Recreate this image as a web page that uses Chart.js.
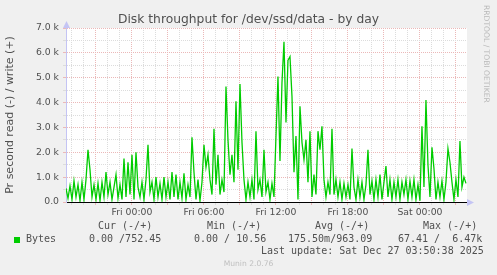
<!DOCTYPE html>
<html>
<head>
<meta charset="utf-8">
<script src="https://cdn.jsdelivr.net/npm/chart.js@4"></script>
<style>
  html, body { margin: 0; padding: 0; background: #f0f0f0; }
  #wrap { position: relative; width: 497px; height: 275px; overflow: hidden; font-family: "DejaVu Sans"; color: #505050; }
  canvas { position: absolute; left: 0; top: 0; }
  .t { position: absolute; white-space: pre; line-height: 12px; }
  .mono { font-family: "DejaVu Sans Mono"; font-size: 10px; }
</style>
</head>
<body>
<div id="wrap">
  <canvas id="chart" width="497" height="275"></canvas>
  <div class="t" style="left:0;width:497px;text-align:center;top:11px;font-size:12.3px;line-height:16px;">Disk throughput for /dev/ssd/data - by day</div>
  <div class="t" style="left:482px;top:5px;font-size:7.6px;color:#b8b8b8;transform-origin:0 0;transform:translate(10px,0) rotate(90deg);">RRDTOOL / TOBI OETIKER</div>

  <div class="t mono" style="left:98px;top:220px;">Cur (-/+)</div>
  <div class="t mono" style="left:207px;top:220px;">Min (-/+)</div>
  <div class="t mono" style="left:315px;top:220px;">Avg (-/+)</div>
  <div class="t mono" style="left:423px;top:220px;">Max (-/+)</div>

  <div style="position:absolute;left:14px;top:237px;width:6px;height:6px;background:#00cc00;"></div>
  <div class="t mono" style="left:26px;top:233px;">Bytes</div>
  <div class="t mono" style="left:89px;top:233px;">0.00 /752.45</div>
  <div class="t mono" style="left:194px;top:233px;">0.00 / 10.56</div>
  <div class="t mono" style="left:288px;top:233px;">175.50m/963.09</div>
  <div class="t mono" style="left:398px;top:233px;">67.41 /  6.47k</div>

  <div class="t mono" style="left:261px;top:245px;">Last update: Sat Dec 27 03:50:38 2025</div>
  <div class="t" style="left:0;width:497px;text-align:center;top:258px;font-size:7.6px;color:#c0c0c0;">Munin 2.0.76</div>
</div>

<script>
// samples every 10 minutes, starting Thu 18:30 (hours relative to Fri 00:00)
const startHour = -5.5;
const stepMinutes = 10;

// write throughput, bytes per second
const writeBytes = [
  550, 150, 650, 100, 850, 200, 700, 50, 800, 100,
  900, 2100, 1300, 200, 700, 100, 750, 50, 800, 200,
  1200, 300, 800, 100, 600, 1100, 150, 700, 100, 1750,
  200, 1600, 300, 1900, 100, 2000, 600, 200, 800, 100,
  900, 2300, 400, 800, 100, 1000, 200, 750, 100, 1000,
  200, 800, 100, 1200, 200, 1100, 100, 800, 150, 1150,
  100, 700, 200, 2600, 1200, 100, 900, 50, 800, 2300,
  1400, 1900, 900, 300, 2950, 700, 1900, 300, 900, 400,
  4650, 2500, 1100, 1900, 800, 4050, 1300, 4750, 2400, 900,
  100, 800, 200, 900, 100, 2850, 500, 900, 200, 2100,
  400, 800, 100, 750, 200, 2650, 5050, 1650, 4800, 6450,
  3200, 5700, 5850, 4250, 1200, 2650, 100, 3850, 2400, 1700,
  2500, 800, 2850, 200, 1100, 300, 2850, 2100, 3050, 900,
  200, 800, 300, 2950, 300, 900, 200, 800, 100, 750,
  200, 700, 100, 2150, 600, 100, 900, 200, 800, 100,
  700, 2100, 300, 850, 100, 900, 200, 1100, 100, 800,
  1450, 200, 900, 100, 800, 200, 900, 100, 800, 300,
  900, 100, 850, 200, 900, 100, 700, 50, 3050, 600,
  4100, 1500, 200, 2200, 1350, 100, 800, 200, 850, 100,
  800, 2150, 1600, 800, 100, 900, 200, 2450, 600, 1000,
  750
];

const tickHours = [0, 6, 12, 18, 24];
const tickLabels = ["Fri 00:00", "Fri 06:00", "Fri 12:00", "Fri 18:00", "Sat 00:00"];

const minorGrid = "#dcdcdc";
const majorGrid = "#ebb8b8";
const textColor = "#505050";
const tickFont = { family: "DejaVu Sans", size: 9.3 };

let points = writeBytes.map((v, i) => ({ x: startHour + i * stepMinutes / 60, y: v }));

// white plot area and the little axis arrows
const munin = {
    id: "munin",
    beforeDraw(chart) {
        const a = chart.chartArea;
        chart.ctx.save();
        chart.ctx.fillStyle = "#ffffff";
        chart.ctx.fillRect(a.left, a.top, a.right - a.left, a.bottom - a.top);
        chart.ctx.restore();
    },
    afterDraw(chart) {
        const ctx = chart.ctx;
        const a = chart.chartArea;
        ctx.save();
        ctx.fillStyle = "#c4c4f4";
        ctx.beginPath();
        ctx.moveTo(a.left - 3, a.top);
        ctx.lineTo(a.left + 0.5, a.top - 7);
        ctx.lineTo(a.left + 4, a.top);
        ctx.fill();
        ctx.beginPath();
        ctx.moveTo(a.right, a.bottom - 3);
        ctx.lineTo(a.right + 7, a.bottom + 0.5);
        ctx.lineTo(a.right, a.bottom + 4);
        ctx.fill();
        ctx.restore();
    }
};

new Chart(document.getElementById("chart"), {
    type: "line",
    data: {
        datasets: [{
            label: "Bytes",
            data: points,
            borderColor: "#00cc00",
            borderWidth: 1.3,
            pointRadius: 0,
            tension: 0,
            fill: false
        }]
    },
    options: {
        responsive: false,
        animation: false,
        layout: { padding: { top: 28, right: 30, left: 0, bottom: 0 } },
        plugins: {
            legend: { display: false },
            tooltip: { enabled: false }
        },
        scales: {
            x: {
                type: "linear",
                min: -5.5,
                max: 27.92,
                afterFit: s => { s.height = 73; },
                afterBuildTicks: s => {
                    let t = [];
                    for (let h = -5; h <= 27; h++) t.push({ value: h });
                    s.ticks = t;
                },
                grid: {
                    color: c => (c.tick && c.tick.value % 3 === 0) ? majorGrid : minorGrid,
                    tickLength: 3,
                    lineWidth: 1
                },
                border: { color: "#000000", width: 1, dash: [1, 1] },
                ticks: {
                    autoSkip: false,
                    maxRotation: 0,
                    padding: 2,
                    color: textColor,
                    font: tickFont,
                    callback: v => {
                        let k = tickHours.indexOf(v);
                        return k >= 0 ? tickLabels[k] : "";
                    }
                }
            },
            y: {
                min: 0,
                max: 7000,
                afterFit: s => { s.width = 66; },
                grid: {
                    color: c => (c.tick && c.tick.value % 1000 === 0) ? majorGrid : minorGrid,
                    tickLength: 3,
                    lineWidth: 1
                },
                border: { color: "#c4c4f4", width: 1, dash: [1, 1] },
                title: {
                    display: true,
                    text: "Pr second read (-) / write (+)",
                    color: textColor,
                    font: { family: "DejaVu Sans", size: 11 }
                },
                ticks: {
                    stepSize: 500,
                    autoSkip: false,
                    padding: 4,
                    color: textColor,
                    font: tickFont,
                    callback: v => {
                        if (v % 1000 !== 0) return "";
                        return v === 0 ? "0.0" : (v / 1000).toFixed(1) + " k";
                    }
                }
            }
        }
    },
    plugins: [munin]
});
</script>
</body>
</html>
